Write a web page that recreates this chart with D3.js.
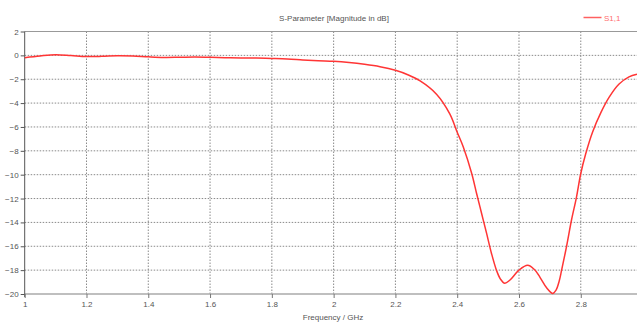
<!DOCTYPE html>
<html><head><meta charset="utf-8">
<script src="https://cdn.jsdelivr.net/npm/d3@7"></script>
<style>body{margin:0;background:#fff;}svg{display:block;}text{font-family:"Liberation Sans",sans-serif;}</style>
</head><body><svg id="c" width="637" height="324"></svg>
<script>
const freq = [1.0,1.05,1.1,1.15,1.2,1.25,1.3,1.35,1.4,1.45,1.5,1.55,1.6,1.65,1.7,1.75,1.8,1.85,1.9,1.95,2.0,2.05,2.1,2.15,2.2,2.24,2.28,2.333,2.376,2.4,2.42,2.447,2.463,2.479,2.495,2.511,2.527,2.54,2.554,2.57,2.6,2.628,2.65,2.668,2.69,2.709,2.72,2.73,2.738,2.754,2.77,2.786,2.8,2.816,2.838,2.865,2.892,2.924,2.956,2.982];
const s11 = [-0.19,-0.05,0.05,-0.02,-0.1,-0.08,-0.03,-0.05,-0.12,-0.17,-0.16,-0.14,-0.16,-0.2,-0.22,-0.23,-0.26,-0.3,-0.38,-0.45,-0.5,-0.6,-0.75,-0.95,-1.25,-1.62,-2.14,-3.25,-4.9,-6.44,-7.7,-9.9,-11.6,-13.25,-14.9,-16.6,-18.0,-18.75,-19.1,-18.85,-18.0,-17.6,-17.95,-18.6,-19.5,-19.95,-19.67,-18.93,-18.0,-16.0,-13.8,-11.9,-9.9,-8.25,-6.44,-4.8,-3.5,-2.4,-1.8,-1.58];
const xTicks = [1,1.2,1.4,1.6,1.8,2,2.2,2.4,2.6,2.8];
const yTicks = [2,0,-2,-4,-6,-8,-10,-12,-14,-16,-18,-20];
const xLabels = ["1","1.2","1.4","1.6","1.8","2","2.2","2.4","2.6","2.8"];

const svg = d3.select("#c");
const x = d3.scaleLinear().domain([1, 2.982]).range([24.7, 637]);
const y = d3.scaleLinear().domain([-20, 2]).range([294, 31.5]);
const txt = "#555";
const fs = 8;

// grid
svg.append("g").selectAll("line").data(xTicks.slice(1)).join("line")
  .attr("x1", d => x(d)).attr("x2", d => x(d)).attr("y1", y(2)).attr("y2", y(-20))
  .attr("stroke", "#8a8a8a").attr("stroke-width", 1).attr("stroke-dasharray", "1.5,1.5");
svg.append("g").selectAll("line").data(yTicks.slice(1, -1)).join("line")
  .attr("x1", x(1)).attr("x2", 637).attr("y1", d => y(d)).attr("y2", d => y(d))
  .attr("stroke", "#8a8a8a").attr("stroke-width", 1).attr("stroke-dasharray", "1.5,1.5");

// frame
svg.append("line").attr("x1", x(1)).attr("x2", 637).attr("y1", y(2)).attr("y2", y(2)).attr("stroke", "#999").attr("stroke-width", 1);
svg.append("line").attr("x1", x(1)).attr("x2", 637).attr("y1", y(-20)).attr("y2", y(-20)).attr("stroke", "#aaa").attr("stroke-width", 1.5);
svg.append("line").attr("x1", x(1)).attr("x2", x(1)).attr("y1", y(2)).attr("y2", y(-20) + 3).attr("stroke", "#555").attr("stroke-width", 1);

// axes labels
const yAxis = d3.axisLeft(y).tickValues(yTicks).tickSize(4).tickFormat(d3.format("d"));
const gy = svg.append("g").attr("transform", `translate(${x(1)},0)`).call(yAxis);
gy.select(".domain").remove();
gy.selectAll("line").attr("stroke", "#555");
gy.selectAll("text").attr("fill", txt).attr("font-size", fs).attr("x", -6);

const xAxis = d3.axisBottom(x).tickValues(xTicks).tickSize(4).tickFormat((d, i) => xLabels[i]);
const gx = svg.append("g").attr("transform", `translate(0,${y(-20)})`).call(xAxis);
gx.select(".domain").remove();
gx.selectAll("line").attr("stroke", "#777");
gx.selectAll("text").attr("fill", txt).attr("font-size", fs).attr("y", 7);

// curve
const line = d3.line().x(d => x(d[0])).y(d => y(d[1])).curve(d3.curveCatmullRom.alpha(0.5));
svg.append("path").datum(freq.map((f, i) => [f, s11[i]]))
  .attr("d", line).attr("fill", "none").attr("stroke", "#ff3535").attr("stroke-width", 1.5);

// title etc
svg.append("text").attr("x", 334).attr("y", 21).attr("text-anchor", "middle").attr("fill", txt).attr("font-size", fs).text("S-Parameter [Magnitude in dB]");
svg.append("text").attr("x", 333).attr("y", 320).attr("text-anchor", "middle").attr("fill", txt).attr("font-size", fs).text("Frequency / GHz");
svg.append("line").attr("x1", 583.5).attr("x2", 601.5).attr("y1", 17.5).attr("y2", 17.5).attr("stroke", "#ff6060").attr("stroke-width", 1.5);
svg.append("text").attr("x", 604).attr("y", 20.5).attr("fill", "#ff6e6e").attr("font-size", fs).text("S1,1");
</script></body></html>
